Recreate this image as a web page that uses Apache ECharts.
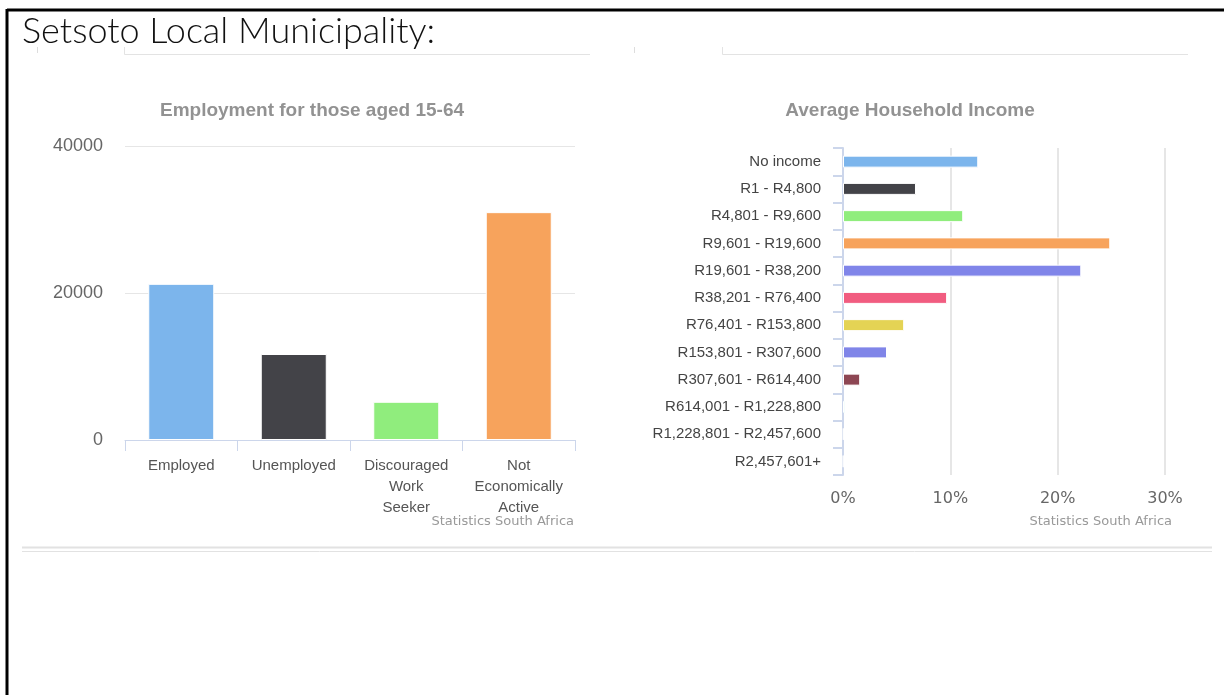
<!DOCTYPE html>
<html>
<head>
<meta charset="utf-8">
<script src="https://cdn.jsdelivr.net/npm/echarts@6/dist/echarts.min.js"></script>
<style>
  html, body { margin: 0; padding: 0; background: #fff; }
  #chart { width: 1224px; height: 695px; }
</style>
</head>
<body>
<div id="chart"></div>
<script>
// Employment for those aged 15-64
const employmentCategories = ['Employed', 'Unemployed', 'Discouraged\nWork\nSeeker', 'Not\nEconomically\nActive'];
const employmentValues = [21250, 11700, 5200, 31000];
const employmentColors = ['#7cb5ec', '#434348', '#90ed7d', '#f7a35c'];

// Average Household Income (share of households, %)
const incomeCategories = [
  'No income', 'R1 - R4,800', 'R4,801 - R9,600', 'R9,601 - R19,600',
  'R19,601 - R38,200', 'R38,201 - R76,400', 'R76,401 - R153,800',
  'R153,801 - R307,600', 'R307,601 - R614,400', 'R614,001 - R1,228,800',
  'R1,228,801 - R2,457,600', 'R2,457,601+'
];
const incomeValues = [12.6, 6.8, 11.2, 24.9, 22.2, 9.7, 5.7, 4.1, 1.6, 0.2, 0.05, 0.03];
const incomeColors = ['#7cb5ec', '#434348', '#90ed7d', '#f7a35c', '#8085e9', '#f15c80',
  '#e4d354', '#8085e8', '#8d4653', '#91e8e1', '#7cb5ec', '#434348'];

const employmentTicks = [0, 20000, 40000];
const incomeTicks = [0, 10, 20, 30];

const chart = echarts.init(document.getElementById('chart'), null, { renderer: 'canvas' });

const labelFont = '"Liberation Sans", Arial, sans-serif';
const faint = '#e6e6e6';

const option = {
  animation: false,
  grid: [
    { left: 125, top: 146, width: 450, height: 294, containLabel: false },
    { left: 843, top: 148, width: 322, height: 327, containLabel: false }
  ],
  xAxis: [
    {
      gridIndex: 0,
      type: 'category',
      data: employmentCategories,
      axisLine: { lineStyle: { color: '#ccd6eb', width: 1 } },
      axisTick: { show: true, length: 11, lineStyle: { color: '#ccd6eb' } },
      axisLabel: {
        color: '#555', fontFamily: labelFont, fontSize: 15,
        lineHeight: 21, margin: 15, interval: 0
      }
    },
    {
      gridIndex: 1,
      type: 'value',
      min: incomeTicks[0],
      max: incomeTicks[incomeTicks.length - 1],
      interval: incomeTicks[1] - incomeTicks[0],
      axisLine: { show: false },
      axisTick: { show: false },
      splitLine: { show: true, lineStyle: { color: faint, width: 2 } },
      axisLabel: {
        color: '#666', fontFamily: '"DejaVu Sans", sans-serif', fontSize: 16,
        margin: 16, formatter: '{value}%'
      }
    }
  ],
  yAxis: [
    {
      gridIndex: 0,
      type: 'value',
      min: employmentTicks[0],
      max: employmentTicks[employmentTicks.length - 1],
      interval: employmentTicks[1] - employmentTicks[0],
      axisLine: { show: false },
      axisTick: { show: false },
      splitLine: { lineStyle: { color: faint, width: 1 } },
      axisLabel: {
        color: '#666', fontFamily: labelFont, fontSize: 18, margin: 22,
        formatter: v => String(v)
      }
    },
    {
      gridIndex: 1,
      type: 'category',
      inverse: true,
      data: incomeCategories,
      axisLine: { lineStyle: { color: '#ccd6eb', width: 2 } },
      axisTick: { show: true, length: 10, lineStyle: { color: '#ccd6eb', width: 2 } },
      axisLabel: { color: '#444', fontFamily: labelFont, fontSize: 15, margin: 22, interval: 0 }
    }
  ],
  series: [
    {
      type: 'bar',
      xAxisIndex: 0,
      yAxisIndex: 0,
      barWidth: 66,
      data: employmentValues.map((v, i) => ({
        value: v,
        itemStyle: { color: employmentColors[i], borderColor: '#fff', borderWidth: 1 }
      }))
    },
    {
      type: 'bar',
      xAxisIndex: 1,
      yAxisIndex: 1,
      barWidth: 12,
      data: incomeValues.map((v, i) => ({
        value: v,
        itemStyle: { color: incomeColors[i], borderColor: '#fff', borderWidth: 1 }
      }))
    }
  ],
  graphic: [
    // page frame
    { type: 'line', shape: { x1: 7, y1: 10, x2: 1224, y2: 10 }, style: { stroke: '#000', lineWidth: 3 } },
    { type: 'line', shape: { x1: 7, y1: 9, x2: 7, y2: 695 }, style: { stroke: '#000', lineWidth: 3 } },
    // heading
    {
      type: 'text', left: 22, top: 13,
      style: { text: 'Setsoto Local Municipality:', fill: '#111', font: '300 36px Lato, "Noto Sans", sans-serif' }
    },
    // faint rule remnants under the heading
    { type: 'line', shape: { x1: 37.5, y1: 47, x2: 37.5, y2: 53 }, style: { stroke: '#ddd', lineWidth: 1 } },
    { type: 'polyline', shape: { points: [[124.5, 47], [124.5, 54.5], [590, 54.5]] }, style: { stroke: '#e3e3e3', lineWidth: 1, fill: null } },
    { type: 'line', shape: { x1: 634.5, y1: 47, x2: 634.5, y2: 53 }, style: { stroke: '#ddd', lineWidth: 1 } },
    { type: 'polyline', shape: { points: [[722.5, 47], [722.5, 54.5], [1188, 54.5]] }, style: { stroke: '#e3e3e3', lineWidth: 1, fill: null } },
    // chart titles
    {
      type: 'text', x: 312, y: 111,
      style: { text: 'Employment for those aged 15-64', fill: '#929292', font: 'bold 19px "Liberation Sans", Arial, sans-serif', textAlign: 'center', textVerticalAlign: 'middle' }
    },
    {
      type: 'text', x: 910, y: 111,
      style: { text: 'Average Household Income', fill: '#929292', font: 'bold 19px "Liberation Sans", Arial, sans-serif', textAlign: 'center', textVerticalAlign: 'middle' }
    },
    // credits
    {
      type: 'text', x: 574, y: 522,
      style: { text: 'Statistics South Africa', fill: '#999', font: '13px "DejaVu Sans", sans-serif', textAlign: 'right', textVerticalAlign: 'middle' }
    },
    {
      type: 'text', x: 1172, y: 522,
      style: { text: 'Statistics South Africa', fill: '#999', font: '13px "DejaVu Sans", sans-serif', textAlign: 'right', textVerticalAlign: 'middle' }
    },
    // double rule under the charts
    { type: 'line', shape: { x1: 22, y1: 547.5, x2: 1212, y2: 547.5 }, style: { stroke: '#e2e2e2', lineWidth: 2 } },
    { type: 'line', shape: { x1: 22, y1: 551.5, x2: 1212, y2: 551.5 }, style: { stroke: '#e2e2e2', lineWidth: 1 } }
  ]
};

chart.setOption(option);
</script>
</body>
</html>
